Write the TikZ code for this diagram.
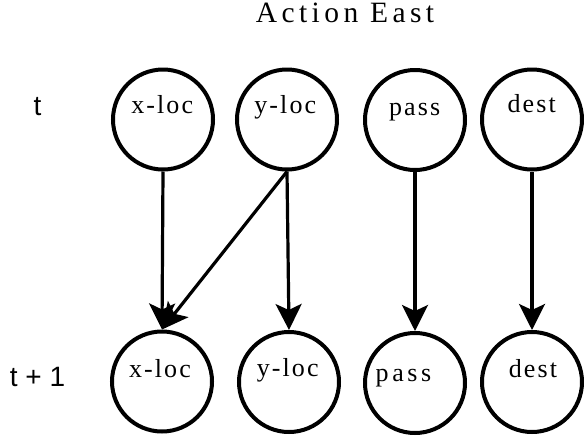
\documentclass[tikz,border=0pt]{standalone}
\usepackage{fontspec}
\setmainfont{Liberation Serif}
\newfontfamily\lblfont[LetterSpace=8]{Liberation Serif}
\newfontfamily\lblfontwide[LetterSpace=14]{Liberation Serif}
\newfontfamily\titlefont[LetterSpace=15]{Liberation Serif}
\newfontfamily\timefont{Liberation Sans}
\usetikzlibrary{arrows.meta}
\begin{document}
\begin{tikzpicture}[x=1pt,y=-1pt,
  var/.style={circle,draw,line width=4pt,minimum size=100pt,inner sep=0pt},
  vtext/.style={anchor=base,inner sep=0pt,font=\lblfont\fontsize{26}{30}\selectfont},
  vwide/.style={anchor=base,inner sep=0pt,font=\lblfontwide\fontsize{26}{30}\selectfont},
  ttext/.style={anchor=base,inner sep=0pt,font=\timefont\fontsize{28}{32}\selectfont},
  title/.style={anchor=base,inner sep=0pt,font=\titlefont\fontsize{29.5}{34}\selectfont},
  dep/.style={line width=3.2pt,-{Stealth[length=26pt,width=26pt,inset=6pt]}}]
\useasboundingbox (0,0) rectangle (584,437);
% title
\node[title] (ttl) at (345,22.7) {Action East};
% time labels
\node[ttext] (tnow) at (37.5,115) {t};
\node[ttext] (tnext) at (37.5,386) {t + 1};
% top row circles
\node[var] (xt) at (163,119.5) {};
\node[var] (yt) at (287,119.5) {};
\node[var] (pt) at (415,120) {};
\node[var] (dt) at (532,119.5) {};
% bottom row circles
\node[var] (xb) at (162,381.5) {};
\node[var] (yb) at (289,382) {};
\node[var] (pb) at (415,383) {};
\node[var] (db) at (532,382) {};
% texts
\node[vtext] (xtl) at (162.2,113) {x-loc};
\node[vtext] (ytl) at (285.3,113) {y-loc};
\node[vtext] (ptl) at (414.7,115) {pass};
\node[vtext] (dtl) at (531.7,112.7) {dest};
\node[vtext] (xbl) at (160,377.3) {x-loc};
\node[vtext] (ybl) at (287.7,376.7) {y-loc};
\node[vwide] (pbl) at (403.5,381.7) {pass};
\node[vtext] (dbl) at (533,377) {dest};
% dependencies
\draw[dep] (xt.south) -- (xb.north);
\draw[dep] (yt.south) -- (xb.north);
\draw[dep] (yt.south) -- (yb.north);
\draw[dep] (pt.south) -- (pb.north);
\draw[dep] (dt.south) -- (db.north);
\end{tikzpicture}
\end{document}
